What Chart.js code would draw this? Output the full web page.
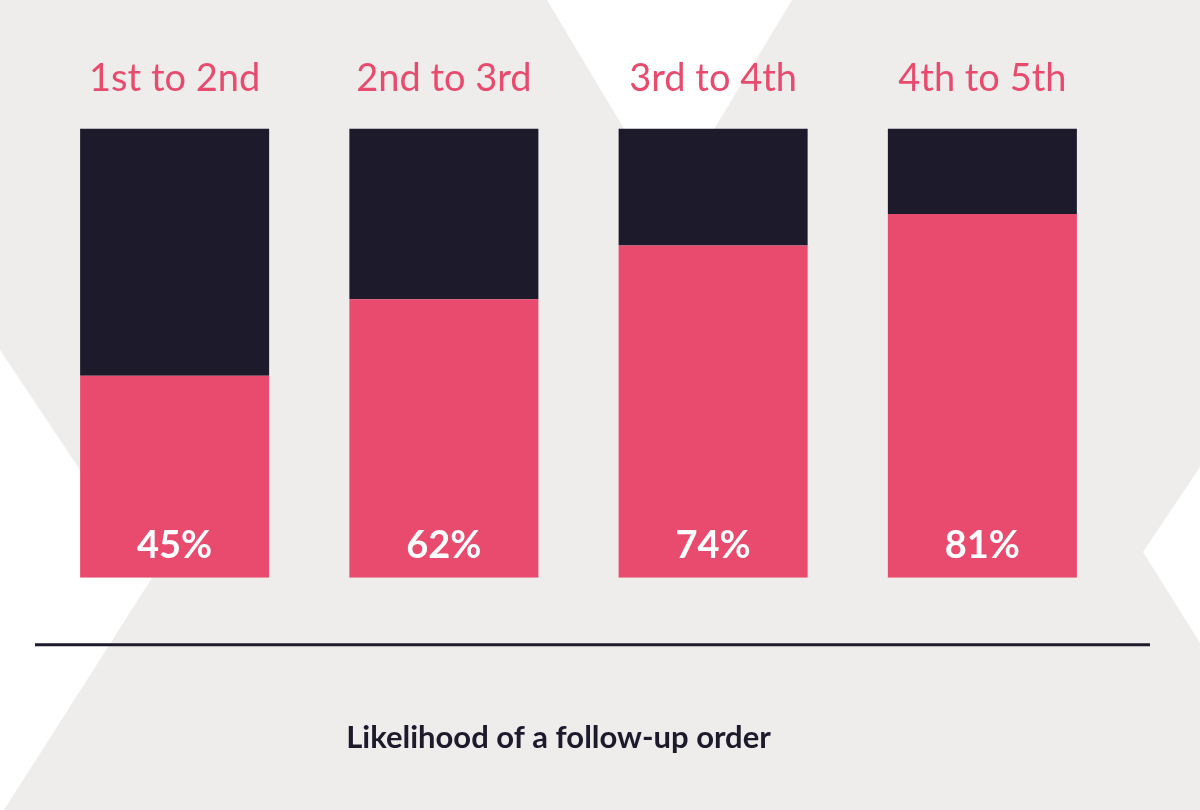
<!DOCTYPE html>
<html>
<head>
<meta charset="utf-8">
<script src="https://cdn.jsdelivr.net/npm/chart.js@4"></script>
<style>
  html, body { margin: 0; padding: 0; }
  body { width: 1200px; height: 810px; background: #eeedeb; position: relative; overflow: hidden; }
  #bg { position: absolute; left: 0; top: 0; }
  #wrap { position: absolute; left: 0; top: 0; width: 1200px; height: 810px; }
</style>
</head>
<body>
<svg id="bg" width="1200" height="810">
  <polygon points="0,350 152,578 4,810 0,810" fill="#ffffff"/>
  <polygon points="547,0 792,0 669,204" fill="#ffffff"/>
  <polygon points="1200,467 1143,552 1200,643" fill="#ffffff"/>
</svg>
<div id="wrap"><canvas id="steps"></canvas></div>
<script>
const steps = ['1st to 2nd', '2nd to 3rd', '3rd to 4th', '4th to 5th'];
const ordered = [45, 62, 74, 81];
const notOrdered = [55, 38, 26, 19];

const pink = 'rgb(232, 75, 109)';
const dark = 'rgb(28, 26, 43)';

// white % labels at the foot of the pink bars
const valueLabels = {
  id: 'valueLabels',
  afterDatasetsDraw(chart) {
    const ctx = chart.ctx;
    const meta = chart.getDatasetMeta(0);
    ctx.save();
    ctx.fillStyle = '#ffffff';
    ctx.font = 'bold 38px Lato';
    ctx.textAlign = 'center';
    ctx.textBaseline = 'middle';
    meta.data.forEach((bar, i) => {
      ctx.fillText(ordered[i] + '%', bar.x, bar.base - 32);
    });
    ctx.restore();
  }
};

// dark rule under the bars
const baseRule = {
  id: 'baseRule',
  afterDraw(chart) {
    const ctx = chart.ctx;
    const y = chart.chartArea.bottom + 67;
    ctx.save();
    ctx.strokeStyle = dark;
    ctx.lineWidth = 3;
    ctx.beginPath();
    ctx.moveTo(35, y);
    ctx.lineTo(1150, y);
    ctx.stroke();
    ctx.restore();
  }
};

const el = document.getElementById('steps');

new Chart(el, {
  type: 'bar',
  data: {
    labels: steps,
    datasets: [{
      label: 'Follow-up order',
      data: ordered,
      backgroundColor: pink,
      borderWidth: 0
    }, {
      label: 'No follow-up',
      data: notOrdered,
      backgroundColor: dark,
      borderWidth: 0
    }]
  },
  options: {
    responsive: true,
    maintainAspectRatio: false,
    animation: false,
    layout: {
      padding: { top: 29, right: 83, bottom: 53, left: 0 }
    },
    datasets: {
      bar: {
        categoryPercentage: 1,
        barPercentage: 0.702
      }
    },
    plugins: {
      legend: { display: false },
      tooltip: { enabled: false },
      title: {
        display: true,
        position: 'bottom',
        text: 'Likelihood of a follow-up order',
        color: dark,
        font: { family: 'Lato', size: 31, weight: 'bold' },
        padding: { top: 142, bottom: 0 }
      }
    },
    scales: {
      x: {
        stacked: true,
        position: 'top',
        grid: { display: false, drawTicks: false },
        border: { display: false },
        ticks: {
          color: pink,
          font: { family: 'Lato', size: 38 },
          padding: 27
        }
      },
      y: {
        stacked: true,
        min: 0,
        max: 100,
        grid: { display: false, drawTicks: false },
        border: { display: false },
        ticks: { display: false },
        afterFit(scale) { scale.width = 40; }
      }
    }
  },
  plugins: [valueLabels, baseRule]
});
</script>
</body>
</html>
